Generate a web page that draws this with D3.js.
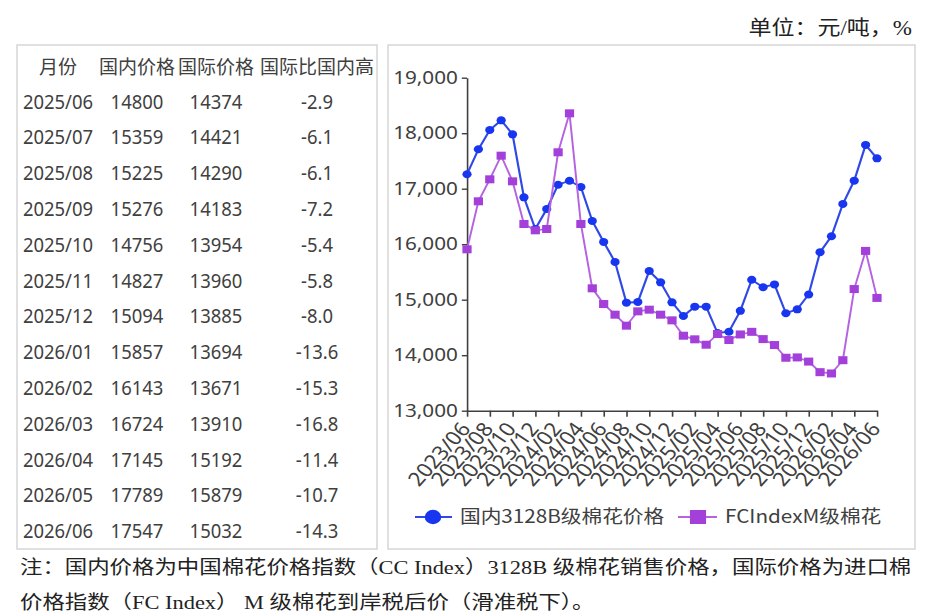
<!DOCTYPE html>
<html>
<head>
<meta charset="utf-8">
<script src="https://cdn.jsdelivr.net/npm/d3@7"></script>
<style>
  html, body { margin: 0; padding: 0; background: #fff; }
  svg { display: block; }
</style>
</head>
<body>
<div id="chart"></div>
<script>
/* ---------- data ---------- */
const months = [
  "2023/06", "2023/07", "2023/08", "2023/09", "2023/10", "2023/11", "2023/12",
  "2024/01", "2024/02", "2024/03", "2024/04", "2024/05", "2024/06", "2024/07",
  "2024/08", "2024/09", "2024/10", "2024/11", "2024/12", "2025/01", "2025/02",
  "2025/03", "2025/04", "2025/05", "2025/06", "2025/07", "2025/08", "2025/09",
  "2025/10", "2025/11", "2025/12", "2026/01", "2026/02", "2026/03", "2026/04",
  "2026/05", "2026/06"
];

// 国内3128B级棉花价格
const domestic = [
  17260, 17710, 18058, 18232, 17980, 16845, 16275, 16634, 17072, 17144,
  17030, 16418, 16040, 15680, 14946, 14958, 15517, 15313, 14953, 14706,
  14874, 14874, 14400, 14423, 14800, 15359, 15225, 15276, 14756, 14827,
  15094, 15857, 16143, 16724, 17145, 17789, 17547
];

// FCIndexM级棉花
const international = [
  15908, 16773, 17169, 17595, 17133, 16364, 16250, 16274, 17656, 18358,
  16364, 15205, 14922, 14730, 14532, 14790, 14820, 14730, 14628, 14351,
  14286, 14189, 14382, 14274, 14374, 14421, 14290, 14183, 13954, 13960,
  13885, 13694, 13671, 13910, 15192, 15879, 15032
];

const tableMonths = [
  "2025/06", "2025/07", "2025/08", "2025/09", "2025/10", "2025/11", "2025/12",
  "2026/01", "2026/02", "2026/03", "2026/04", "2026/05", "2026/06"
];
const tableDomestic = [14800, 15359, 15225, 15276, 14756, 14827, 15094, 15857, 16143, 16724, 17145, 17789, 17547];
const tableIntl = [14374, 14421, 14290, 14183, 13954, 13960, 13885, 13694, 13671, 13910, 15192, 15879, 15032];
const tableDiff = [-2.9, -6.1, -6.1, -7.2, -5.4, -5.8, -8.0, -13.6, -15.3, -16.8, -11.4, -10.7, -14.3];

const tableHeaders = ["月份", "国内价格", "国际价格", "国际比国内高"];
const yTicks = [13000, 14000, 15000, 16000, 17000, 18000, 19000];
const seriesNames = ["国内3128B级棉花价格", "FCIndexM级棉花"];

const unitText = "单位：元/吨，%";
const noteLines = [
  "注：国内价格为中国棉花价格指数（CC Index）3128B 级棉花销售价格，国际价格为进口棉",
  "价格指数（FC Index） M 级棉花到岸税后价（滑准税下）。"
];

/* ---------- setup ---------- */
const W = 925, H = 616;
const SX = 1.15;              // the chart picture is stretched sideways
const ix = v => v / SX;
const TEXT = "#404040";
const BLUE_LINE = "#2f48e6", BLUE_DOT = "#1836f0";
const PURPLE_LINE = "#b563e3", PURPLE_DOT = "#a440da";
const SANS = "'Noto Sans CJK SC', 'Noto Sans', sans-serif";
const SERIF = "'Liberation Serif', 'Noto Sans CJK SC', serif";

const svg = d3.select("#chart").append("svg")
  .attr("width", W).attr("height", H);

svg.append("rect").attr("width", W).attr("height", H).attr("fill", "#fff");

/* ---------- unit text ---------- */
svg.append("text")
  .attr("transform", `translate(912,35) scale(${SX},1)`)
  .attr("text-anchor", "end")
  .attr("font-family", SERIF)
  .attr("font-size", 20)
  .attr("fill", "#222")
  .text(unitText);

/* ---------- table ---------- */
const table = svg.append("g");
table.append("rect")
  .attr("x", 17).attr("y", 45).attr("width", 360).attr("height", 504)
  .attr("fill", "none").attr("stroke", "#d6d6d6").attr("stroke-width", 1.5);

const colX = [58, 137, 216, 317];
const rowY0 = 101, rowStep = 35.8;

table.selectAll("text.head")
  .data(tableHeaders)
  .join("text")
  .attr("class", "head")
  .attr("x", (d, i) => colX[i])
  .attr("y", 74)
  .attr("text-anchor", "middle")
  .attr("font-family", SANS)
  .attr("font-size", 19)
  .attr("fill", TEXT)
  .text(d => d);

const rows = tableMonths.map((m, i) => [m, tableDomestic[i], tableIntl[i], tableDiff[i].toFixed(1)]);

rows.forEach((r, ri) => {
  r.forEach((cell, ci) => {
    table.append("text")
      .attr("transform", `translate(${colX[ci]},${rowY0 + ri * rowStep + 7.5}) scale(0.9,1)`)
      .attr("text-anchor", "middle")
      .attr("font-family", "'Noto Sans', sans-serif")
      .attr("font-size", 20.5)
      .attr("fill", TEXT)
      .text(cell);
  });
});

/* ---------- chart (drawn in unstretched units, then stretched) ---------- */
svg.append("rect")
  .attr("x", 388).attr("y", 45).attr("width", 527).attr("height", 504)
  .attr("fill", "none").attr("stroke", "#d6d6d6").attr("stroke-width", 1.5);

const g = svg.append("g").attr("transform", `scale(${SX},1)`);

const x = d3.scalePoint().domain(months).range([ix(467), ix(877)]);
const y = d3.scaleLinear().domain([13000, 19000]).range([410.7, 77.7]);

const yAxis = g.append("g")
  .attr("transform", `translate(${ix(467)},0)`)
  .call(d3.axisLeft(y).tickValues(yTicks).tickFormat(d3.format(","))
    .tickSize(4.5).tickSizeOuter(0).tickPadding(3.5));

const xTicks = months.filter((d, i) => i % 2 === 0);
const xAxis = g.append("g")
  .attr("transform", `translate(0,${y(13000)})`)
  .call(d3.axisBottom(x).tickValues(xTicks).tickSize(6).tickSizeOuter(0));

[yAxis, xAxis].forEach(ax => {
  ax.selectAll("path, line").attr("stroke", TEXT).attr("stroke-width", 1.4);
  ax.selectAll("text")
    .attr("font-family", "'Noto Sans', sans-serif")
    .attr("font-size", 18)
    .attr("fill", TEXT);
});

xAxis.selectAll(".tick text")
  .attr("x", 0).attr("y", 0).attr("dy", 0)
  .attr("transform", "translate(3.5,18.5) rotate(-52)")
  .attr("text-anchor", "end")
  .attr("font-size", 19.5);

const line = d3.line().x((d, i) => x(months[i])).y(d => y(d));

// domestic
g.append("path")
  .datum(domestic)
  .attr("d", line)
  .attr("fill", "none")
  .attr("stroke", BLUE_LINE)
  .attr("stroke-width", 1.9);

g.selectAll("circle.dom")
  .data(domestic)
  .join("circle")
  .attr("class", "dom")
  .attr("cx", (d, i) => x(months[i]))
  .attr("cy", d => y(d))
  .attr("r", 4)
  .attr("fill", BLUE_DOT);

// international
g.append("path")
  .datum(international)
  .attr("d", line)
  .attr("fill", "none")
  .attr("stroke", PURPLE_LINE)
  .attr("stroke-width", 1.7);

g.selectAll("rect.intl")
  .data(international)
  .join("rect")
  .attr("class", "intl")
  .attr("x", (d, i) => x(months[i]) - 4)
  .attr("y", d => y(d) - 4)
  .attr("width", 8)
  .attr("height", 8)
  .attr("fill", PURPLE_DOT);

/* ---------- legend ---------- */
const legY = 517;
const leg = g.append("g");

leg.append("line")
  .attr("x1", ix(415)).attr("x2", ix(452)).attr("y1", legY).attr("y2", legY)
  .attr("stroke", BLUE_LINE).attr("stroke-width", 2);
leg.append("circle")
  .attr("cx", ix(433)).attr("cy", legY).attr("r", 7.2)
  .attr("fill", BLUE_DOT);
leg.append("text")
  .attr("x", ix(460)).attr("y", legY + 6.5)
  .attr("font-family", SANS).attr("font-size", 18).attr("fill", TEXT)
  .text(seriesNames[0]);

leg.append("line")
  .attr("x1", ix(678)).attr("x2", ix(717)).attr("y1", legY).attr("y2", legY)
  .attr("stroke", PURPLE_LINE).attr("stroke-width", 2);
leg.append("rect")
  .attr("x", ix(698) - 7).attr("y", legY - 7).attr("width", 14).attr("height", 14)
  .attr("fill", PURPLE_DOT);
leg.append("text")
  .attr("x", ix(725)).attr("y", legY + 6.5)
  .attr("font-family", SANS).attr("font-size", 18).attr("fill", TEXT)
  .text(seriesNames[1]);

/* ---------- note ---------- */
const note = svg.append("g");
const noteText = note.selectAll("text")
  .data(noteLines)
  .join("text")
  .attr("font-family", SERIF)
  .attr("font-size", 19)
  .attr("fill", "#222")
  .text(d => d);

// squeeze/stretch so the first line spans the box width like the original
const natural = noteText.node().getComputedTextLength();
const k = 892 / natural;
noteText.attr("transform", (d, i) => `translate(20,${574 + i * 35}) scale(${k},1)`);
</script>
</body>
</html>
